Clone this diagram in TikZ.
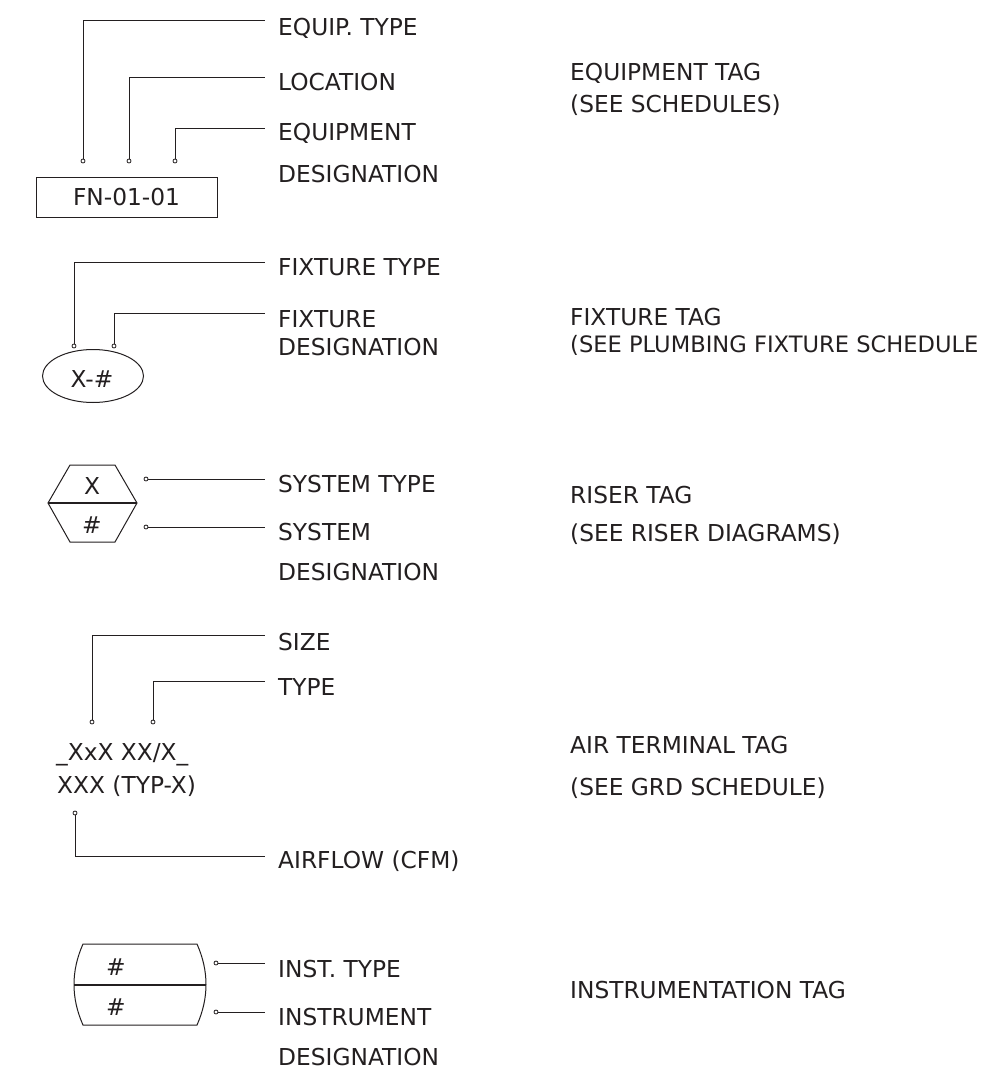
\documentclass[tikz,border=0pt]{standalone}
\usepackage{fontspec}
\setmainfont{DejaVu Sans}
\usetikzlibrary{shapes.geometric}
\definecolor{ink}{RGB}{35,31,32}
\begin{document}
\begin{tikzpicture}[x=1pt,y=-1pt,
  txt/.style={inner sep=0pt,font=\fontsize{23.3}{28}\selectfont,text=ink},
  lbl/.style={txt,anchor=base west},
  ctr/.style={txt,anchor=base},
  ldr/.style={draw=ink,line width=1pt},
  pin/.style={draw=ink,fill=white,line width=0.8pt},
  tagline/.style={draw=ink,line width=1pt,line join=miter}]
\useasboundingbox (0,0) rectangle (988,1074);

% ---------------- Equipment tag
\node[draw=ink,line width=1pt,minimum width=181pt,minimum height=40pt,inner sep=0pt,
      font=\fontsize{23.3}{28}\selectfont,text=ink] (eqbox) at (126.5,197) {FN-01-01};
\coordinate (e1) at (83,161);  \coordinate (e1end) at (265,20);
\coordinate (e2) at (129,161); \coordinate (e2end) at (265,77);
\coordinate (e3) at (175,161); \coordinate (e3end) at (265,128);
\draw[ldr] (e1) |- (e1end);
\draw[ldr] (e2) |- (e2end);
\draw[ldr] (e3) |- (e3end);
\foreach \p in {e1,e2,e3} \draw[pin] (\p) circle (2);
\node[lbl] (eqtype) at (278,35) {EQUIP. TYPE};
\node[lbl] (eqloc) at (278,90) {LOCATION};
\node[lbl] (eqdes1) at (278,140) {EQUIPMENT};
\node[lbl] (eqdes2) at (278,182) {DESIGNATION};
\node[lbl] (eqtag) at (570,80) {EQUIPMENT TAG};
\node[lbl] (eqsee) at (570,112) {(SEE SCHEDULES)};

% ---------------- Fixture tag
\node[draw=ink,line width=1pt,ellipse,minimum width=101pt,minimum height=53pt,inner sep=0pt] (fx) at (93,376) {};
\node[ctr] (fxtxt) at (92,387) {X-\#};
\coordinate (f1) at (74,346);  \coordinate (f1end) at (265,262);
\coordinate (f2) at (114,346); \coordinate (f2end) at (265,313);
\draw[ldr] (f1) |- (f1end);
\draw[ldr] (f2) |- (f2end);
\foreach \p in {f1,f2} \draw[pin] (\p) circle (2);
\node[lbl] (fxtype) at (278,275) {FIXTURE TYPE};
\node[lbl] (fxdes1) at (278,327) {FIXTURE};
\node[lbl] (fxdes2) at (278,355) {DESIGNATION};
\node[lbl] (fxtag) at (570,325) {FIXTURE TAG};
\node[lbl,font=\fontsize{22.6}{28}\selectfont] (fxsee) at (570,352) {(SEE PLUMBING FIXTURE SCHEDULE};

% ---------------- Riser tag
\draw[tagline] (70,465) -- (115,465) -- (137,503) -- (115,542) -- (70,542) -- (48,503) -- cycle;
\draw[ink,line width=1.4pt] (48,503) -- (137,503);
\node[ctr] (rx) at (92,494) {X};
\node[ctr] (rn) at (92,533) {\#};
\coordinate (r1) at (146,479); \coordinate (r1end) at (265,479);
\coordinate (r2) at (146,527); \coordinate (r2end) at (265,527);
\draw[ldr] (r1) -- (r1end);
\draw[ldr] (r2) -- (r2end);
\foreach \p in {r1,r2} \draw[pin] (\p) circle (2);
\node[lbl] (rtype) at (278,492) {SYSTEM TYPE};
\node[lbl] (rdes1) at (278,540) {SYSTEM};
\node[lbl] (rdes2) at (278,580) {DESIGNATION};
\node[lbl] (rtag) at (570,503) {RISER TAG};
\node[lbl] (rsee) at (570,541) {(SEE RISER DIAGRAMS)};

% ---------------- Air terminal tag
\node[lbl] (at1) at (56,760) {\_XxX XX/X\_};
\node[lbl] (at2) at (57,793) {XXX (TYP-X)};
\coordinate (a1) at (92,722);  \coordinate (a1end) at (265,635);
\coordinate (a2) at (153,722); \coordinate (a2end) at (265,681);
\coordinate (a3) at (75,813);  \coordinate (a3end) at (265,856);
\draw[ldr] (a1) |- (a1end);
\draw[ldr] (a2) |- (a2end);
\draw[ldr] (a3) |- (a3end);
\foreach \p in {a1,a2,a3} \draw[pin] (\p) circle (2);
\node[lbl] (asize) at (278,650) {SIZE};
\node[lbl] (atype) at (278,695) {TYPE};
\node[lbl] (aflow) at (278,868) {AIRFLOW (CFM)};
\node[lbl] (atag) at (570,753) {AIR TERMINAL TAG};
\node[lbl] (asee) at (570,795) {(SEE GRD SCHEDULE)};

% ---------------- Instrumentation tag
\draw[tagline] (83,944) -- (197,944) .. controls (209,971) and (209,998) .. (197,1025)
  -- (83,1025) .. controls (71,998) and (71,971) .. (83,944) -- cycle;
\draw[ink,line width=2pt] (74,985) -- (206,985);
\node[ctr] (in1) at (116,975) {\#};
\node[ctr] (in2) at (116,1015) {\#};
\coordinate (i1) at (216,963);  \coordinate (i1end) at (265,963);
\coordinate (i2) at (216,1012); \coordinate (i2end) at (265,1012);
\draw[ldr] (i1) -- (i1end);
\draw[ldr] (i2) -- (i2end);
\foreach \p in {i1,i2} \draw[pin] (\p) circle (2);
\node[lbl] (itype) at (278,977) {INST. TYPE};
\node[lbl] (ides1) at (278,1025) {INSTRUMENT};
\node[lbl] (ides2) at (278,1065) {DESIGNATION};
\node[lbl] (itag) at (570,998) {INSTRUMENTATION TAG};
\end{tikzpicture}
\end{document}
